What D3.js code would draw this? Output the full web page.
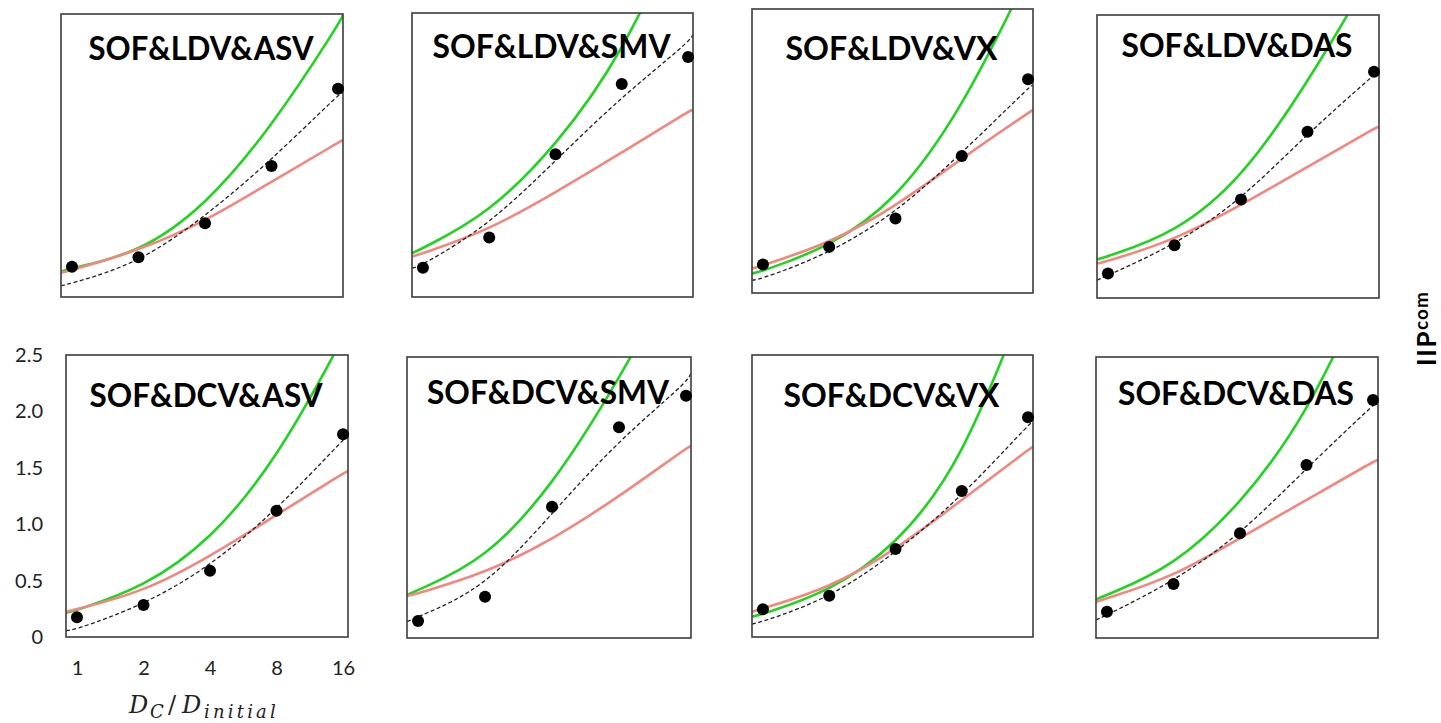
<!DOCTYPE html>
<html>
<head>
<meta charset="utf-8">
<script src="https://cdn.jsdelivr.net/npm/d3@7"></script>
<style>
  body { margin: 0; background: #fff; }
  svg { display: block; }
</style>
</head>
<body>
<svg id="chart" width="1441" height="723"></svg>
<script>
// ---- data ----
var panelTitles = ["SOF&LDV&ASV", "SOF&LDV&SMV", "SOF&LDV&VX", "SOF&LDV&DAS",
                   "SOF&DCV&ASV", "SOF&DCV&SMV", "SOF&DCV&VX", "SOF&DCV&DAS"];

var xTicks = [1, 2, 4, 8, 16];
var yTicks = [0, 0.5, 1.0, 1.5, 2.0, 2.5];
var yTickLabels = ["0", "0.5", "1.0", "1.5", "2.0", "2.5"];

// measured IIPcom points at Dc/Dinitial = 1,2,4,8,16
var dotValues = [
  [0.268, 0.351, 0.651, 1.157, 1.840],
  [0.258, 0.523, 1.257, 1.874, 2.112],
  [0.251, 0.406, 0.656, 1.206, 1.882],
  [0.216, 0.466, 0.870, 1.468, 1.999],
  [0.175, 0.284, 0.588, 1.120, 1.797],
  [0.151, 0.368, 1.168, 1.874, 2.156],
  [0.246, 0.366, 0.780, 1.294, 1.948],
  [0.234, 0.480, 0.931, 1.539, 2.117]
];

// curves read at these x positions (frame edge, ticks, frame edge)
var curveX = [0.892, 1, 2, 4, 8, 16, 16.85];

var dashedValues = [
  [0.100, 0.121, 0.298, 0.709, 1.210, 1.784, 1.810],
  [0.253, 0.282, 0.634, 1.200, 1.765, 2.236, 2.309],
  [0.112, 0.127, 0.348, 0.700, 1.230, 1.803, 1.832],
  [0.157, 0.201, 0.466, 0.864, 1.454, 1.969, 2.013],
  [0.056, 0.068, 0.284, 0.623, 1.126, 1.746, 1.791],
  [0.145, 0.190, 0.442, 1.109, 1.762, 2.266, 2.355],
  [0.115, 0.136, 0.343, 0.742, 1.244, 1.879, 1.909],
  [0.160, 0.205, 0.501, 0.916, 1.510, 2.073, 2.102]
];

var greenValues = [
  [0.224, 0.254, 0.386, 0.798, 1.500, 2.400, 2.490],
  [0.385, 0.429, 0.737, 1.324, 2.120, 3.400, 3.550],
  [0.171, 0.194, 0.406, 0.803, 1.612, 2.800, 2.900],
  [0.340, 0.369, 0.570, 1.041, 1.896, 2.900, 3.000],
  [0.215, 0.239, 0.440, 0.850, 1.569, 2.650, 2.750],
  [0.383, 0.427, 0.694, 1.346, 2.295, 3.400, 3.550],
  [0.180, 0.204, 0.402, 0.801, 1.540, 3.050, 3.150],
  [0.344, 0.383, 0.634, 1.183, 1.969, 3.250, 3.350]
];

var redValues = [
  [0.215, 0.239, 0.409, 0.665, 1.019, 1.363, 1.387],
  [0.355, 0.385, 0.590, 0.920, 1.270, 1.633, 1.648],
  [0.215, 0.244, 0.436, 0.759, 1.186, 1.583, 1.612],
  [0.304, 0.327, 0.510, 0.820, 1.158, 1.498, 1.512],
  [0.224, 0.246, 0.400, 0.712, 1.082, 1.451, 1.472],
  [0.374, 0.398, 0.576, 0.872, 1.257, 1.688, 1.708],
  [0.224, 0.254, 0.432, 0.771, 1.215, 1.658, 1.687],
  [0.323, 0.353, 0.545, 0.890, 1.228, 1.569, 1.584]
];

// ---- layout (frame boxes as pasted in the original figure) ----
var frames = [
  [61, 14, 343, 297], [412, 13, 693, 297], [752, 9, 1033, 293], [1097, 15, 1379, 298],
  [66, 355, 348, 637], [407, 357, 691, 638], [752, 355, 1033, 637], [1096, 357, 1378, 638]
];
var titleBaseline = [46, 45, 51, 42, 52, 47, 52, 48];
var titleWidth = [225, 238, 212, 231, 233, 242, 216, 236];

var svg = d3.select("#chart");
var defs = svg.append("defs");

frames.forEach(function (f, i) {
  var x = d3.scaleLog().base(2).domain([0.892, 16.85]).range([f[0], f[2]]);
  var y = d3.scaleLinear().domain([0, 2.5]).range([f[3], f[1]]);

  defs.append("clipPath").attr("id", "clip" + i)
    .append("rect")
    .attr("x", f[0]).attr("y", f[1])
    .attr("width", f[2] - f[0]).attr("height", f[3] - f[1]);

  var g = svg.append("g").attr("class", "panel");

  var line = d3.line()
    .x(function (d) { return x(d[0]); })
    .y(function (d) { return y(d[1]); })
    .curve(d3.curveBasis);

  var curves = g.append("g").attr("clip-path", "url(#clip" + i + ")");

  curves.append("path")
    .datum(d3.zip(curveX, greenValues[i]))
    .attr("d", line)
    .attr("fill", "none")
    .attr("stroke", "#22d422")
    .attr("stroke-width", 2.6);

  curves.append("path")
    .datum(d3.zip(curveX, redValues[i]))
    .attr("d", line)
    .attr("fill", "none")
    .attr("stroke", "#f3877f")
    .attr("stroke-width", 2.6);

  curves.append("path")
    .datum(d3.zip(curveX, dashedValues[i]))
    .attr("d", line)
    .attr("fill", "none")
    .attr("stroke", "#222")
    .attr("stroke-width", 1.3)
    .attr("stroke-dasharray", "4,2.5");

  g.append("rect")
    .attr("x", f[0]).attr("y", f[1])
    .attr("width", f[2] - f[0]).attr("height", f[3] - f[1])
    .attr("fill", "none")
    .attr("stroke", "#3c3c3c")
    .attr("stroke-width", 1.6);

  g.selectAll("circle")
    .data(d3.zip(xTicks, dotValues[i]))
    .enter()
    .append("circle")
    .attr("cx", function (d) { return x(d[0]); })
    .attr("cy", function (d) { return y(d[1]); })
    .attr("r", 6)
    .attr("fill", "#000");

  g.append("text")
    .attr("x", (f[0] + f[2]) / 2 - 1)
    .attr("y", f[1] + titleBaseline[i])
    .attr("text-anchor", "middle")
    .attr("font-family", "Lato, 'Open Sans', sans-serif")
    .attr("font-weight", "bold")
    .attr("font-size", 32)
    .attr("textLength", titleWidth[i])
    .attr("lengthAdjust", "spacingAndGlyphs")
    .attr("fill", "#000")
    .text(panelTitles[i]);

  // axes only on the lower-left panel
  if (i === 4) {
    var yAxis = d3.axisLeft(y).tickValues(yTicks).tickSize(0).tickPadding(0)
      .tickFormat(function (d, k) { return yTickLabels[k]; });
    var ya = svg.append("g").attr("transform", "translate(" + (f[0] - 23) + ",0)").call(yAxis);
    ya.select(".domain").remove();
    ya.selectAll("text")
      .attr("font-family", "Lato, 'Open Sans', sans-serif")
      .attr("font-size", 20)
      .attr("fill", "#222");

    var xAxis = d3.axisBottom(x).tickValues(xTicks).tickSize(0).tickPadding(0)
      .tickFormat(d3.format("d"));
    var xa = svg.append("g").attr("transform", "translate(0," + (f[3] + 38) + ")").call(xAxis);
    xa.select(".domain").remove();
    xa.selectAll("text")
      .attr("dy", 0)
      .attr("font-family", "Lato, 'Open Sans', sans-serif")
      .attr("font-size", 20)
      .attr("fill", "#222");

    // x axis title: D_C / D_initial as one text with positioned pieces
    var xt = svg.append("text")
      .attr("y", 713)
      .attr("font-family", "'DejaVu Serif', 'Liberation Serif', serif")
      .attr("font-style", "italic")
      .attr("font-size", 24)
      .attr("fill", "#222");
    xt.append("tspan").attr("x", 129).text("D");
    xt.append("tspan").attr("x", 150).attr("dy", 5).attr("font-size", 18).text("C");
    xt.append("tspan").attr("x", 168).attr("dy", -5).attr("font-style", "normal").text("/");
    xt.append("tspan").attr("x", 182).text("D");
    xt.append("tspan").attr("x", 204).attr("dy", 5).attr("font-size", 18)
      .attr("letter-spacing", 3.2).text("initial");
  }
});

// rotated y label on the right
var yl = svg.append("text")
  .attr("transform", "translate(1436,366) rotate(-90)")
  .attr("font-family", "Lato, 'Open Sans', sans-serif")
  .attr("font-weight", "bold")
  .attr("font-size", 26)
  .attr("fill", "#000");
yl.append("tspan").attr("letter-spacing", 1.5).text("IIP");
yl.append("tspan").attr("font-size", 19).attr("dy", -8).attr("letter-spacing", 1).text("com");
</script>
</body>
</html>
